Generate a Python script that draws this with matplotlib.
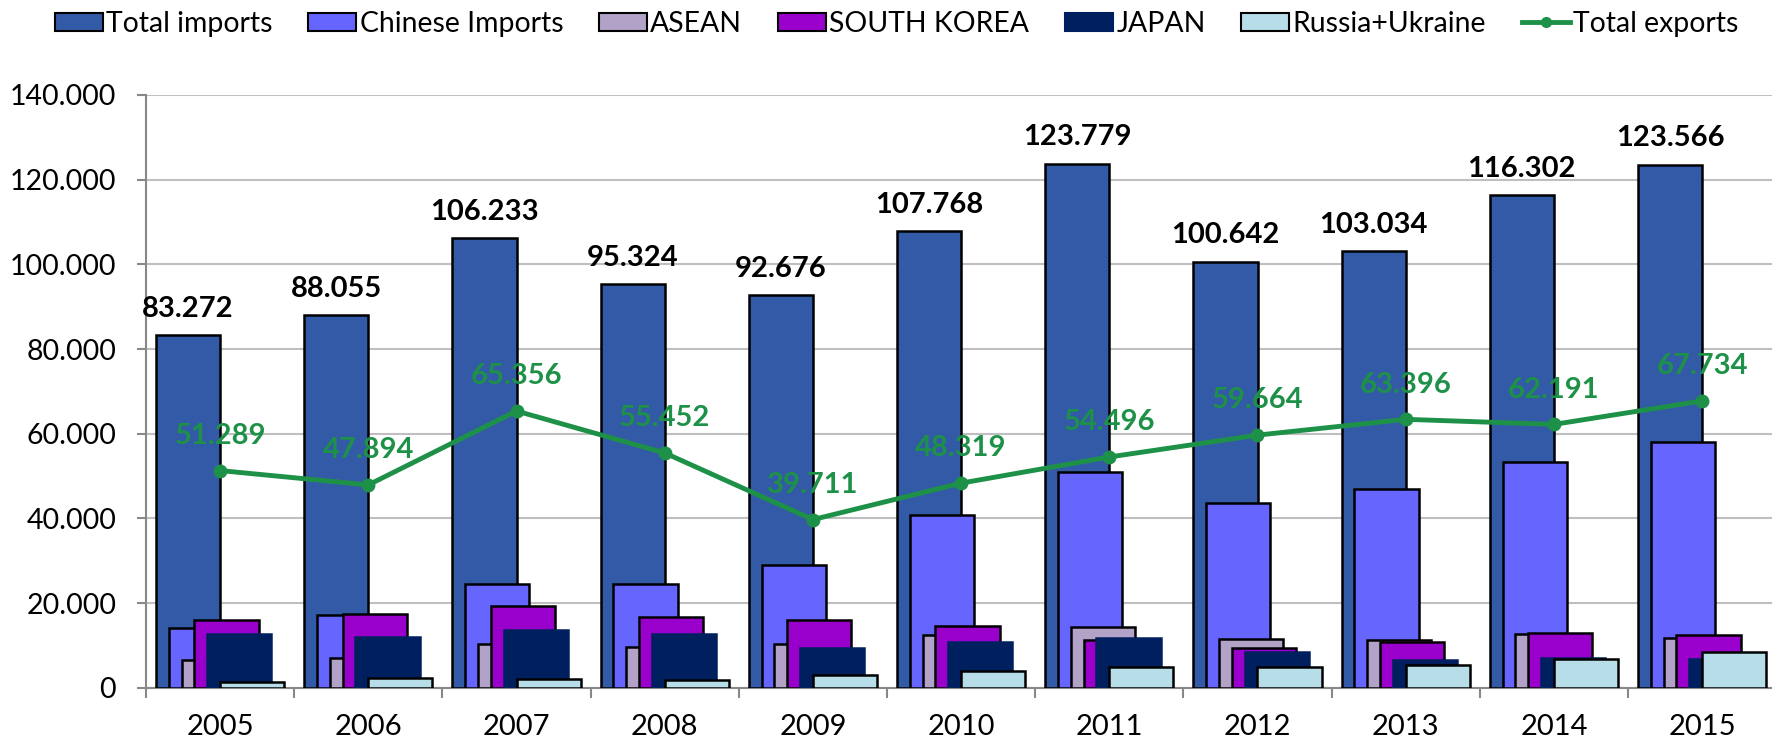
import matplotlib
matplotlib.use("Agg")
import matplotlib.pyplot as plt
import numpy as np
from matplotlib.lines import Line2D
from matplotlib.patches import Patch

years = ["2005", "2006", "2007", "2008", "2009", "2010", "2011", "2012", "2013", "2014", "2015"]
total_imports = [83.272, 88.055, 106.233, 95.324, 92.676, 107.768, 123.779, 100.642, 103.034, 116.302, 123.566]
chinese_imports = [14.0, 17.2, 24.4, 24.5, 29.1, 40.9, 51.0, 43.7, 47.0, 53.3, 58.0]
asean = [6.6, 7.1, 10.4, 9.7, 10.3, 12.5, 14.4, 11.4, 11.2, 12.6, 11.7]
south_korea = [15.9, 17.4, 19.4, 16.8, 16.1, 14.5, 11.3, 9.3, 10.9, 12.9, 12.5]
japan = [12.7, 12.0, 13.6, 12.6, 9.3, 10.7, 11.7, 8.5, 6.5, 7.0, 6.8]
russia_ukraine = [1.3, 2.2, 2.0, 1.8, 2.9, 4.0, 4.9, 4.8, 5.4, 6.8, 8.5]
total_exports = [51.289, 47.894, 65.356, 55.452, 39.711, 48.319, 54.496, 59.664, 63.396, 62.191, 67.734]
yticks = [0, 20, 40, 60, 80, 100, 120, 140]

font = "Lato"
plt.rcParams['font.family'] = [font, 'DejaVu Sans']

def fmt(v):
    return "0" if v == 0 else f"{v:.3f}"

W, H = 1772, 743
fig = plt.figure(figsize=(W / 100, H / 100), dpi=100)
cat_w = 148.2
ax_left, ax_bottom, ax_top = 146, 687.7, 95
ax = fig.add_axes([ax_left / W, 1 - ax_bottom / H, 11 * cat_w / W, (ax_bottom - ax_top) / H])

x = np.arange(len(years))
w = 0.432
step = w / 5
series = [
    ("Total imports", total_imports, "#335AA6", "black"),
    ("Chinese Imports", chinese_imports, "#6666FF", "black"),
    ("ASEAN", asean, "#B3A2C7", "black"),
    ("SOUTH KOREA", south_korea, "#9900CC", "black"),
    ("JAPAN", japan, "#001F5F", "#001F5F"),
    ("Russia+Ukraine", russia_ukraine, "#B7DDE8", "black"),
]
handles = []
for i, (name, vals, fc, ec) in enumerate(series):
    left = x - w + i * step
    ax.bar(left, vals, width=w, align='edge', color=fc, edgecolor=ec, linewidth=1.8, zorder=3 + i)
    handles.append(Patch(facecolor=fc, edgecolor=ec, linewidth=1.5, label=name))

green = "#1E9148"
ax.plot(x, total_exports, color=green, linewidth=3.5, marker='o', markersize=9, zorder=20)
handles.append(Line2D([0], [0], color=green, linewidth=3.5, marker='o', markersize=7, label="Total exports"))

for xi, v in zip(x, total_imports):
    ax.annotate(fmt(v), (xi - w / 2, v), xytext=(0, 19), textcoords='offset points',
                ha='center', va='center', fontsize=21, fontweight='bold', color='black', zorder=25)
for xi, v in zip(x, total_exports):
    ax.annotate(fmt(v), (xi, v), xytext=(0, 25), textcoords='offset points',
                ha='center', va='center', fontsize=21, fontweight='bold', color=green, zorder=25)

ax.set_xlim(-0.5, len(years) - 0.5)
ax.set_ylim(0, 140)
ax.set_yticks(yticks)
ax.set_yticklabels([fmt(v) for v in yticks], fontsize=20.5)
ax.set_xticks(x)
ax.set_xticklabels(years, fontsize=21)
ax.set_xticks(np.arange(len(years) + 1) - 0.5, minor=True)
ax.tick_params(axis='x', which='major', length=0, pad=19)
ax.tick_params(axis='x', which='minor', length=7, color='#888888', width=1.5)
ax.tick_params(axis='y', length=6.5, color='#888888', width=1.5, pad=15)
ax.yaxis.grid(True, color='#BFBFBF', linewidth=1.5, zorder=0)
ax.set_axisbelow(True)
for s in ['top', 'right']:
    ax.spines[s].set_visible(False)
for s in ['left', 'bottom']:
    ax.spines[s].set_color('#888888')
    ax.spines[s].set_linewidth(1.5)

fig.legend(handles=handles, loc='upper center', bbox_to_anchor=(0.506, 1.02), ncol=7,
           frameon=False, fontsize=20.4, handlelength=1.7, handleheight=0.6,
           handletextpad=0.12, columnspacing=1.25)

fig.savefig("out.png", dpi=100)
